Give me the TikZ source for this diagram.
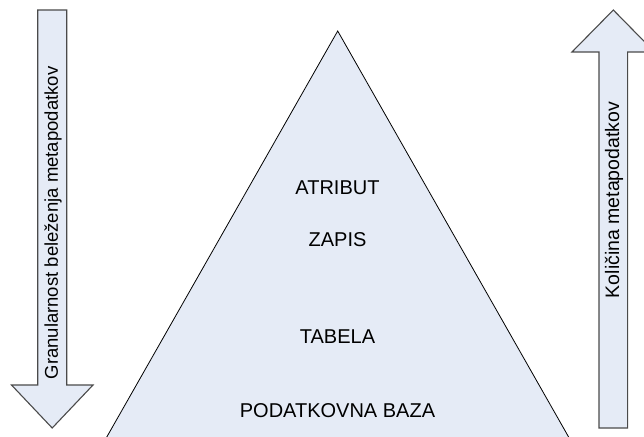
\documentclass[tikz,border=0pt]{standalone}
\usepackage{fontspec}
\setmainfont{Liberation Sans}
\definecolor{paleblue}{HTML}{E5EBF6}
\definecolor{edgegray}{HTML}{4A4A4A}
\begin{document}
\begin{tikzpicture}[x=1pt,y=-1pt,
  arrowshape/.style={fill=paleblue,draw=edgegray,line width=1.1pt,line join=miter},
  pyramid/.style={fill=paleblue,draw=black,line width=0.8pt},
  lvl/.style={font=\fontsize{20}{24}\selectfont,inner sep=0pt},
  sidelbl/.style={inner sep=0pt,rotate=90}]
\useasboundingbox (0,0) rectangle (644,436);
\clip (0,0) rectangle (644,436);

% left arrow pointing down
\draw[arrowshape] (37.7,10) -- (66.7,10) -- (66.7,385) -- (93,385) -- (52.2,428)
  -- (11.5,385) -- (37.7,385) -- cycle;
% right arrow pointing up
\draw[arrowshape] (599,428) -- (599,52) -- (572,52) -- (613.3,10) -- (654.6,52)
  -- (627.6,52) -- (627.6,428) -- cycle;

% pyramid, cut off by the lower edge
\draw[pyramid] (337.7,31) -- (580,457) -- (95.4,457) -- cycle;

\node[lvl] (atribut) at (337.5,188) {ATRIBUT};
\node[lvl] (zapis) at (337.5,240) {ZAPIS};
\node[lvl] (tabela) at (337.5,337) {TABELA};
\node[lvl] (baza) at (337.5,411) {PODATKOVNA BAZA};

\node[sidelbl,font=\fontsize{18.5}{22}\selectfont] (gran) at (53,223)
  {Granularnost beleženja metapodatkov};
\node[sidelbl,font=\fontsize{19.5}{23}\selectfont] (kol) at (614,200)
  {Količina metapodatkov};
\end{tikzpicture}
\end{document}
